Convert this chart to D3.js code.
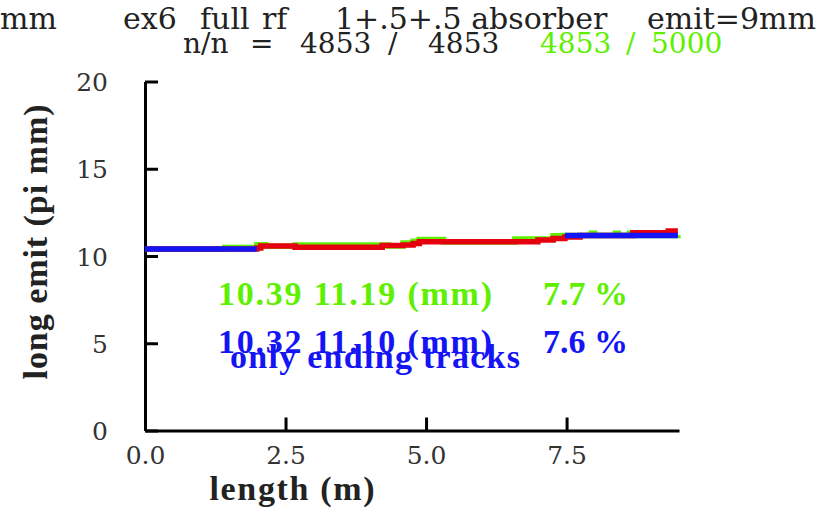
<!DOCTYPE html>
<html>
<head>
<meta charset="utf-8">
<script src="https://cdn.jsdelivr.net/npm/d3@7"></script>
<style>
  body { margin: 0; background: #fff; }
  svg { display: block; }
</style>
</head>
<body>
<svg id="chart" width="825" height="513"></svg>
<script>
// ---- data ----
const greenX = [0, 1.42, 1.99, 2.15, 2.67, 4.33, 4.59, 4.77, 4.88, 5.31, 6.58, 7.26, 7.42, 7.94, 8.0, 8.37, 8.42, 8.62, 8.67, 9.48];
const greenY = [10.39, 10.49, 10.64, 10.56, 10.63, 10.58, 10.75, 10.85, 10.94, 10.80, 10.98, 11.16, 11.17, 11.30, 11.17, 11.30, 11.17, 11.30, 11.18, 11.19];
const redX = [0, 1.99, 2.06, 2.67, 4.22, 4.59, 4.77, 4.88, 6.99, 7.26, 7.47, 7.74, 8.68, 9.31, 9.48];
const redY = [10.40, 10.46, 10.57, 10.50, 10.60, 10.63, 10.72, 10.82, 10.91, 11.01, 11.09, 11.17, 11.33, 11.43, 11.43];
const blueX = [0, 1.99, 4.0, 7.47, 9.48];
const blueY = [10.40, 10.40, null, 11.18, 11.18];
const xTicks = [0, 2.5, 5.0, 7.5];
const yTicks = [0, 5, 10, 15, 20];
const titleLine1 = [["mm", 0], ["ex6", 123], ["full", 200], ["rf", 262], ["1+.5+.5 absorber", 335], ["emit=9mm", 647]];
const titleLine2 = [["n/n", 183, "#222"], ["=", 250, "#222"], ["4853", 300, "#222"], ["/", 388, "#222"], ["4853", 428, "#222"], ["4853", 540, "#5ef000"], ["/", 626, "#5ef000"], ["5000", 651, "#5ef000"]];
const statsGreen = ["10.39 11.19 (mm)", "7.7 %"];
const statsBlue = ["10.32 11.10 (mm)", "7.6 %"];
const blueNote = "only ending tracks";

// ---- chart ----
const svg = d3.select("#chart");
const x = d3.scaleLinear().domain([0, 9.5]).range([145, 679]);
const y = d3.scaleLinear().domain([0, 20]).range([430.5, 81.5]);

const GREEN = "#5ef000", RED = "#e6000f", BLUE = "#1414f5";
const SERIF = "DejaVu Serif";
const BOLDSERIF = "Liberation Serif";

// axes
const yAxis = d3.axisLeft(y).tickValues(yTicks).tickSizeInner(-13).tickSizeOuter(0).tickPadding(37).tickFormat(d3.format("d"));
const gy = svg.append("g").attr("transform", "translate(145,0)").call(yAxis);
const xAxis = d3.axisBottom(x).tickValues(xTicks).tickSizeInner(-13).tickSizeOuter(0).tickPadding(16).tickFormat(d3.format(".1f"));
const gx = svg.append("g").attr("transform", "translate(0,430.5)").call(xAxis);
[gx, gy].forEach(g => {
  g.selectAll("path.domain").attr("stroke", "#000").attr("stroke-width", 3);
  g.selectAll(".tick line").attr("stroke", "#000").attr("stroke-width", 3);
  g.selectAll(".tick text").attr("font-family", SERIF).attr("font-size", 25).attr("fill", "#333");
});
gx.selectAll(".tick text").attr("dy", "0.71em");
gy.selectAll(".tick text").attr("dy", "0.36em");

// lines
const mk = (xs, ys) => xs.map((v, i) => [v, ys[i]]);
const line = d3.line().defined(d => d[1] != null).x(d => x(d[0])).y(d => y(d[1])).curve(d3.curveStepAfter);
svg.append("path").datum(mk(greenX, greenY)).attr("d", line).attr("fill", "none").attr("stroke", GREEN).attr("stroke-width", 5.5);
svg.append("path").datum(mk(redX, redY)).attr("d", line).attr("fill", "none").attr("stroke", RED).attr("stroke-width", 5.5);
svg.append("path").datum(mk(blueX, blueY)).attr("d", line).attr("fill", "none").attr("stroke", BLUE).attr("stroke-width", 5.5);

// axis labels
svg.append("text").attr("x", 292).attr("y", 500).attr("text-anchor", "middle").attr("font-family", BOLDSERIF)
  .attr("font-size", 34).attr("font-weight", "bold").attr("fill", "#222").attr("textLength", 165).text("length (m)");
svg.append("text").attr("transform", "translate(47,242) rotate(-90)").attr("text-anchor", "middle").attr("font-family", BOLDSERIF)
  .attr("font-size", 34).attr("font-weight", "bold").attr("fill", "#222").attr("textLength", 275).text("long emit (pi mm)");

// titles
titleLine1.forEach(([t, px]) => svg.append("text").attr("x", px).attr("y", 29).attr("font-family", SERIF).attr("font-size", 30)
  .attr("fill", "#222").text(t));
titleLine2.forEach(([t, px, c]) => svg.append("text").attr("x", px).attr("y", 53).attr("font-family", SERIF).attr("font-size", 28)
  .attr("fill", c).text(t));

// stats
const stat = (t, px, py, w, c) => svg.append("text").attr("x", px).attr("y", py).attr("font-family", BOLDSERIF).attr("font-size", 34)
  .attr("font-weight", "bold").attr("fill", c).attr("textLength", w).text(t);
stat(statsGreen[0], 218, 305, 274, GREEN);
stat(statsGreen[1], 543, 305, 85, GREEN);
stat(statsBlue[0], 218, 353, 274, BLUE);
stat(statsBlue[1], 543, 353, 85, BLUE);
stat(blueNote, 230, 368, 290, BLUE);
</script>
</body>
</html>
